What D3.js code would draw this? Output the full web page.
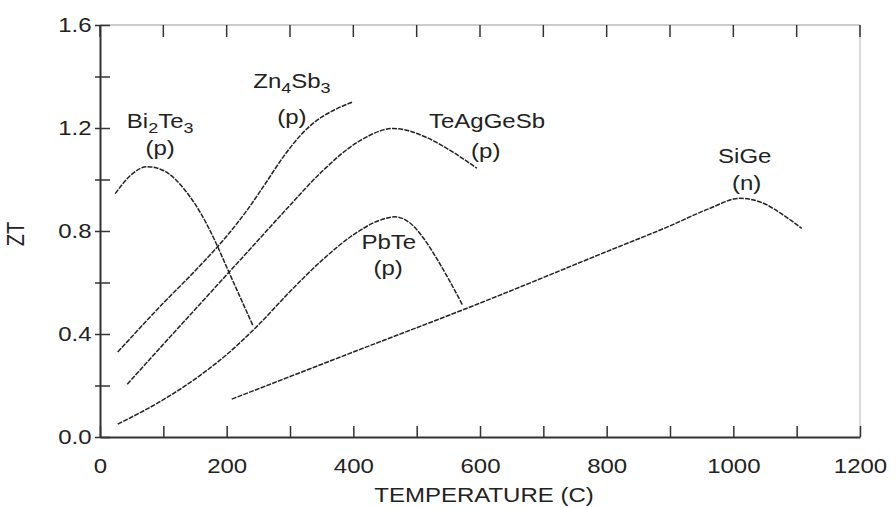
<!DOCTYPE html>
<html>
<head>
<meta charset="utf-8">
<script src="https://cdn.jsdelivr.net/npm/d3@7"></script>
<style>
  body { margin: 0; background: #fff; }
  text { font-family: "Liberation Sans", Arial, sans-serif; fill: #222; }
</style>
</head>
<body>
<script>
// ZT vs temperature ([T in C, ZT])
const bi2te3 = [[24,0.945],[50,1.02],[74,1.05],[100,1.035],[137,0.95],[160,0.865],[180,0.77],[200,0.66],[220,0.55],[242,0.43]];
const zn4sb3 = [[28,0.33],[100,0.52],[150,0.645],[200,0.78],[232,0.88],[260,0.98],[290,1.09],[316,1.17],[340,1.225],[370,1.27],[398,1.30]];
const teaggesb = [[43,0.205],[100,0.36],[150,0.495],[200,0.63],[250,0.765],[300,0.90],[350,1.03],[410,1.15],[463,1.198],[516,1.163],[558,1.105],[595,1.044]];
const pbte = [[28,0.05],[100,0.145],[150,0.225],[200,0.32],[250,0.435],[300,0.565],[350,0.685],[400,0.785],[440,0.84],[466,0.855],[490,0.83],[510,0.775],[530,0.70],[550,0.615],[573,0.51]];
const sige = [[208,0.147],[400,0.33],[600,0.52],[800,0.72],[900,0.82],[960,0.885],[1011,0.927],[1050,0.905],[1074,0.87],[1108,0.81]];

const xTicks = [0,100,200,300,400,500,600,700,800,900,1000,1100,1200];
const xLabels = [0,200,400,600,800,1000,1200];
const yTicks = [0,0.2,0.4,0.6,0.8,1.0,1.2,1.4,1.6];
const yLabels = [0,0.4,0.8,1.2,1.6];

// label anchors in data units (name line, then type line)
const labels = [
  {parts: [['Bi',0],['2',1],['Te',0],['3',1]], type: '(p)', at: [95,1.20], at2: [95,1.095]},
  {parts: [['Zn',0],['4',1],['Sb',0],['3',1]], type: '(p)', at: [303,1.355], at2: [303,1.216]},
  {parts: [['TeAgGeSb',0]], type: '(p)', at: [611,1.20], at2: [609,1.083]},
  {parts: [['PbTe',0]], type: '(p)', at: [456,0.73], at2: [455,0.63]},
  {parts: [['SiGe',0]], type: '(n)', at: [1018,1.064], at2: [1021,0.96]}
];

const W = 896, H = 508;
const margin = {top: 25, right: 36, bottom: 71, left: 100};
const width = W - margin.left - margin.right;
const height = H - margin.top - margin.bottom;
const sx = 1.2; // the figure's lettering is stretched sideways

const x = d3.scaleLinear().domain([0,1200]).range([0,width]);
const y = d3.scaleLinear().domain([0,1.6]).range([height,0]);

const svg = d3.select('body').append('svg')
  .attr('width', W).attr('height', H);
const g = svg.append('g')
  .attr('transform', `translate(${margin.left},${margin.top})`);

// top and right frame, light grey
g.append('line').attr('x1',0).attr('x2',width).attr('y1',0).attr('y2',0)
  .attr('stroke','#bbb').attr('stroke-width',1.5);
g.append('line').attr('x1',width).attr('x2',width).attr('y1',0).attr('y2',height)
  .attr('stroke','#ccc').attr('stroke-width',1.5);

// top ticks
g.selectAll('.ttick').data(xTicks).enter().append('line')
  .attr('x1', d => x(d)).attr('x2', d => x(d))
  .attr('y1', 0).attr('y2', 12)
  .attr('stroke', '#333').attr('stroke-width', 1.5);

// bottom axis
const xAxis = g.append('g')
  .attr('transform', `translate(0,${height})`)
  .call(d3.axisBottom(x).tickValues(xTicks).tickSizeInner(-11).tickSizeOuter(0).tickPadding(22)
    .tickFormat(d => xLabels.includes(d) ? d : ''));
xAxis.select('.domain').attr('stroke','#333').attr('stroke-width',2);
xAxis.selectAll('.tick line').attr('stroke','#333').attr('stroke-width',1.5);
xAxis.selectAll('.tick text').attr('font-size',20).attr('font-family',null)
  .attr('fill','#222').attr('transform',`scale(${sx},1)`);

// left axis
const yAxis = g.append('g')
  .call(d3.axisLeft(y).tickValues(yTicks).tickSizeInner(-10).tickSizeOuter(0).tickPadding(7)
    .tickFormat(d => yLabels.some(v => Math.abs(v-d) < 1e-6) ? d3.format('.1f')(d) : ''));
yAxis.select('.domain').attr('stroke','#333').attr('stroke-width',2);
yAxis.selectAll('.tick line').attr('x1',-5).attr('stroke','#333').attr('stroke-width',1.5);
yAxis.selectAll('.tick text').attr('font-size',20).attr('font-family',null)
  .attr('fill','#222').attr('transform',`scale(${sx},1)`);

// axis titles
g.append('text')
  .attr('transform', `translate(${width/2 + 4},${height + 65}) scale(${sx},1)`)
  .attr('text-anchor','middle').attr('font-size',20)
  .text('TEMPERATURE (C)');
g.append('text')
  .attr('transform', `translate(${-76},${y(0.8) + 3}) rotate(-90) scale(1,${sx})`)
  .attr('text-anchor','middle').attr('font-size',20)
  .text('ZT');

// curves
const line = d3.line()
  .x(d => x(d[0])).y(d => y(d[1]))
  .curve(d3.curveMonotoneX);

g.selectAll('.curve')
  .data([bi2te3, zn4sb3, teaggesb, pbte, sige])
  .enter().append('path')
  .attr('class','curve')
  .attr('d', line)
  .attr('fill','none')
  .attr('stroke','#222')
  .attr('stroke-width',1.5)
  .attr('stroke-dasharray','5,1.2');

// material labels
const lab = g.selectAll('.lab').data(labels).enter().append('g').attr('class','lab');
lab.append('text')
  .attr('transform', d => `translate(${x(d.at[0])},${y(d.at[1])}) scale(${sx},1)`)
  .attr('text-anchor','middle').attr('font-size',20)
  .each(function(d) {
    const t = d3.select(this);
    let shift = 0;
    d.parts.forEach(([s, sub]) => {
      const dy = (sub ? 5 : 0) - shift;
      shift = sub ? 5 : 0;
      t.append('tspan').attr('dy', dy).attr('font-size', sub ? 15 : 20).text(s);
    });
  });
lab.append('text')
  .attr('transform', d => `translate(${x(d.at2[0])},${y(d.at2[1])}) scale(${sx},1)`)
  .attr('text-anchor','middle').attr('font-size',20)
  .text(d => d.type);
</script>
</body>
</html>
